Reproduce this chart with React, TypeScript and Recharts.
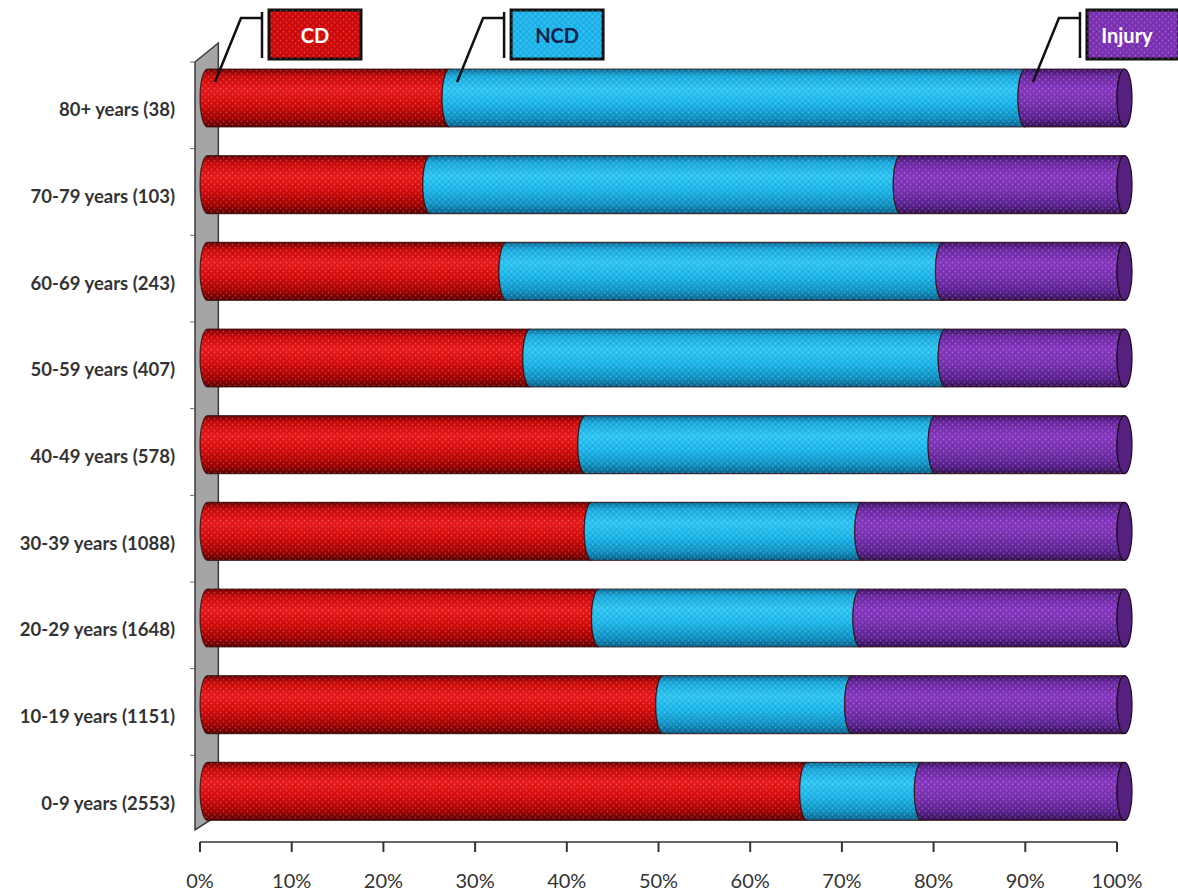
import React from 'react';
import { BarChart, Bar, XAxis, YAxis, ReferenceArea } from 'recharts';

const categories = [
  '80+ years (38)',
  '70-79 years (103)',
  '60-69 years (243)',
  '50-59 years (407)',
  '40-49 years (578)',
  '30-39 years (1088)',
  '20-29 years (1648)',
  '10-19 years (1151)',
  '0-9 years (2553)',
];
const cdValues = [26.4, 24.3, 32.6, 35.2, 41.2, 41.9, 42.7, 49.7, 65.4];
const ncdValues = [62.8, 51.3, 47.6, 45.3, 38.2, 29.5, 28.5, 20.6, 12.5];
const injuryValues = [10.8, 24.4, 19.8, 19.5, 20.6, 28.6, 28.8, 29.7, 22.1];
const xTicks = [0, 10, 20, 30, 40, 50, 60, 70, 80, 90, 100];
const seriesKeys = ['CD', 'NCD', 'Injury'];

const data = categories.map((label, i) => ({
  label,
  CD: cdValues[i],
  NCD: ncdValues[i],
  Injury: injuryValues[i],
}));

const FONT = 'Lato, "Open Sans", sans-serif';

const STYLES: Record<string, any> = {
  CD: {
    stops: ['#6e0000', '#c80808', '#e8191b', '#d40a0a', '#a00000', '#5a0000'],
    box: '#cf0808',
    text: '#ffffff',
    cap: '#8a0000',
  },
  NCD: {
    stops: ['#0a6a94', '#1aa8dc', '#2cc4f2', '#1ab4e8', '#0e8fc0', '#0a5f88'],
    box: '#1cb4ea',
    text: '#10204a',
    cap: '#0a7fae',
  },
  Injury: {
    stops: ['#3c1260', '#6a28a0', '#8636c0', '#7630ae', '#5a2090', '#34104f'],
    box: '#7a30b2',
    text: '#ffffff',
    cap: '#55207e',
  },
};

function Defs() {
  return (
    <defs>
      {seriesKeys.map((k) => (
        <linearGradient key={k} id={`grad-${k}`} x1="0" y1="0" x2="0" y2="1">
          <stop offset="0%" stopColor={STYLES[k].stops[0]} />
          <stop offset="12%" stopColor={STYLES[k].stops[1]} />
          <stop offset="35%" stopColor={STYLES[k].stops[2]} />
          <stop offset="60%" stopColor={STYLES[k].stops[3]} />
          <stop offset="85%" stopColor={STYLES[k].stops[4]} />
          <stop offset="100%" stopColor={STYLES[k].stops[5]} />
        </linearGradient>
      ))}
      <pattern id="dots" width="6" height="6" patternUnits="userSpaceOnUse">
        <circle cx="1.5" cy="1.5" r="0.9" fill="#ffffff" fillOpacity="0.22" />
        <circle cx="4.5" cy="4.5" r="0.9" fill="#ffffff" fillOpacity="0.22" />
        <circle cx="4.5" cy="1.5" r="0.8" fill="#000000" fillOpacity="0.08" />
        <circle cx="1.5" cy="4.5" r="0.8" fill="#000000" fillOpacity="0.08" />
      </pattern>
    </defs>
  );
}

function makeShape(key: string, isLast: boolean) {
  return (props: any) => {
    const { x, y, width, height, index } = props;
    if (x == null || y == null || width == null || height == null) return null;
    const st = STYLES[key];
    const rx = 7.5;
    const ry = height / 2;
    const w = Math.max(width, 0);
    const d = `M ${x + rx} ${y} L ${x + w + rx} ${y} A ${rx} ${ry} 0 0 0 ${x + w + rx} ${y + height} L ${x + rx} ${y + height} A ${rx} ${ry} 0 0 1 ${x + rx} ${y} Z`;
    const top = y;
    return (
      <g>
        {index === 0 && key === 'CD' ? <Defs /> : null}
        <path d={d} fill={`url(#grad-${key})`} />
        <path d={d} fill="url(#dots)" stroke="#2a0a0a" strokeOpacity={0.75} strokeWidth={1.2} />
        {isLast ? (
          <ellipse cx={x + w + rx} cy={y + ry} rx={rx} ry={ry} fill={st.cap} stroke="#1a0a20" strokeWidth={1.2} />
        ) : null}
        {index === 0 ? (
          <g>
            <polyline
              points={`${x + 15},${top + 13} ${x + 41},${top - 51} ${x + 62},${top - 51}`}
              fill="none"
              stroke="#111"
              strokeWidth={2.5}
            />
            <line x1={x + 62} y1={top - 57} x2={x + 62} y2={top - 11} stroke="#111" strokeWidth={2.5} />
            <rect x={x + 69} y={top - 59} width={92} height={49} fill={st.box} stroke="#111" strokeWidth={3} />
            <rect x={x + 69} y={top - 59} width={92} height={49} fill="url(#dots)" />
            <text
              x={key === 'Injury' ? x + 69 + 40 : x + 69 + 46}
              y={top - 34}
              textAnchor="middle"
              dominantBaseline="central"
              fontFamily={FONT}
              fontWeight="bold"
              fontSize={20}
              fill={st.text}
            >
              {key}
            </text>
          </g>
        ) : null}
      </g>
    );
  };
}

function WallShape(props: any) {
  const { x, y, width, height } = props;
  if (x == null) return null;
  const x0 = x - 5;
  const x1 = x + width;
  const top = y;
  const bottom = y + height;
  const n = categories.length;
  const band = height / n;
  const ticks = [];
  for (let k = 0; k <= n; k++) {
    const ty = top + 7 + k * band;
    if (ty > bottom - 2) break;
    ticks.push(<line key={k} x1={x0 - 5} x2={x0} y1={ty} y2={ty} stroke="#666" strokeWidth={1} />);
  }
  return (
    <g>
      <polygon
        points={`${x0},${top + 7} ${x1},${top - 12} ${x1},${bottom - 20} ${x0},${bottom - 5}`}
        fill="#a5a5a5"
        stroke="#3a3a3a"
        strokeWidth={1.5}
      />
      {ticks}
    </g>
  );
}

function YTick(props: any) {
  const { x, y, payload } = props;
  return (
    <text
      x={x}
      y={y + 11}
      textAnchor="end"
      dominantBaseline="central"
      fontFamily={FONT}
      fontWeight="bold"
      fontSize={18.5}
      fill="#333"
    >
      {payload.value}
    </text>
  );
}

function XTick(props: any) {
  const { x, y, payload } = props;
  return (
    <text
      x={x}
      y={y + 28}
      textAnchor="middle"
      dominantBaseline="central"
      fontFamily={FONT}
      fontSize={20}
      fill="#333"
    >
      {`${payload.value}%`}
    </text>
  );
}

export default function App() {
  return (
    <div style={{ position: 'absolute', left: 0, top: 0, width: 1178, height: 896, background: '#fff' }}>
      <BarChart
        width={1178}
        height={896}
        data={data}
        layout="vertical"
        margin={{ top: 55, right: 61, bottom: 0, left: 0 }}
        barSize={58}
      >
        <XAxis
          type="number"
          domain={[0, 100]}
          ticks={xTicks}
          interval={0}
          height={54}
          axisLine={{ stroke: '#333', strokeWidth: 1.5 }}
          tickLine={{ stroke: '#333', strokeWidth: 2 }}
          tickSize={10}
          tickMargin={0}
          tick={XTick}
        />
        <YAxis
          type="category"
          dataKey="label"
          width={200}
          axisLine={false}
          tickLine={false}
          tickSize={0}
          tickMargin={25}
          padding={{ top: 0, bottom: 7 }}
          tick={YTick}
          interval={0}
        />
        <ReferenceArea x1={0} x2={2} ifOverflow="visible" shape={WallShape} />
        <Bar dataKey="CD" stackId="a" isAnimationActive={false} shape={makeShape('CD', false)} />
        <Bar dataKey="NCD" stackId="a" isAnimationActive={false} shape={makeShape('NCD', false)} />
        <Bar dataKey="Injury" stackId="a" isAnimationActive={false} shape={makeShape('Injury', true)} />
      </BarChart>
    </div>
  );
}
